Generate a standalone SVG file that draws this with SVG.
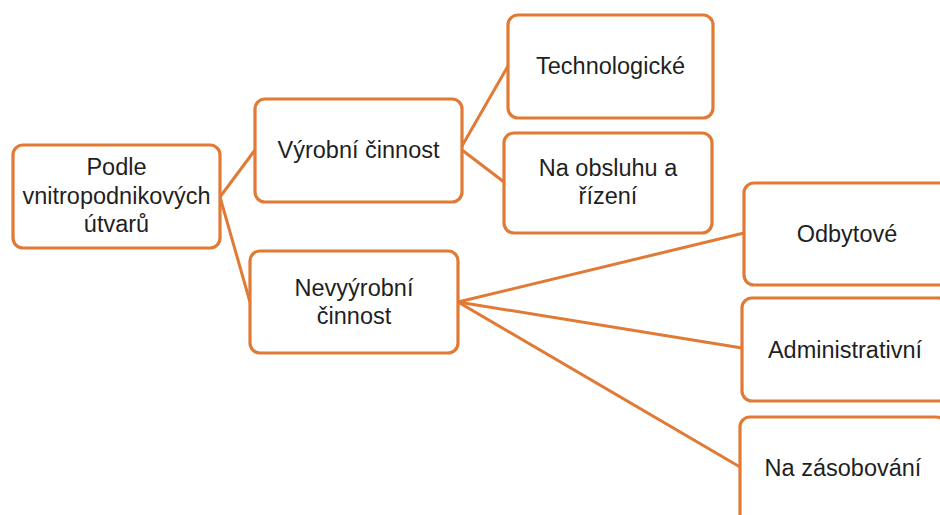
<svg xmlns="http://www.w3.org/2000/svg" width="940" height="515" viewBox="0 0 940 515">
<style>
.box{fill:#fff;stroke:#E07A35;stroke-width:3.2}
.ln{stroke:#E07A35;stroke-width:3;fill:none}
text{font-family:"Liberation Sans",Arial,sans-serif;font-size:23.5px;fill:#1f1f1f;text-anchor:middle}
</style>
<rect width="940" height="515" fill="#fff"/>
<g id="connectors">
<line class="ln" x1="220" y1="197" x2="255" y2="150"/>
<line class="ln" x1="220" y1="197" x2="250" y2="302"/>
<line class="ln" x1="462" y1="146" x2="508" y2="66"/>
<line class="ln" x1="462" y1="150" x2="504" y2="182"/>
<line class="ln" x1="458" y1="302" x2="744" y2="233"/>
<line class="ln" x1="458" y1="302" x2="742" y2="348"/>
<line class="ln" x1="458" y1="302" x2="740" y2="467"/>
</g>
<g id="podle">
<rect class="box" x="13" y="145" width="207" height="103" rx="10"/>
<text x="116.5" y="175">Podle</text>
<text x="116.5" y="204">vnitropodnikových</text>
<text x="116.5" y="232">útvarů</text>
</g>
<g id="vyrobni">
<rect class="box" x="255" y="99" width="207" height="103" rx="10"/>
<text x="358.5" y="158">Výrobní činnost</text>
</g>
<g id="technologicke">
<rect class="box" x="508" y="15" width="205" height="103" rx="10"/>
<text x="610.5" y="74">Technologické</text>
</g>
<g id="obsluha">
<rect class="box" x="504" y="133" width="208" height="100" rx="10"/>
<text x="608" y="176">Na obsluhu a</text>
<text x="608" y="204">řízení</text>
</g>
<g id="nevyrobni">
<rect class="box" x="250" y="251" width="208" height="102" rx="10"/>
<text x="354" y="296">Nevyýrobní</text>
<text x="354" y="324">činnost</text>
</g>
<g id="odbytove">
<rect class="box" x="744" y="183" width="206" height="102" rx="10"/>
<text x="847" y="242">Odbytové</text>
</g>
<g id="administrativni">
<rect class="box" x="742" y="298" width="206" height="103" rx="10"/>
<text x="845" y="358">Administrativní</text>
</g>
<g id="zasobovani">
<rect class="box" x="740" y="417" width="206" height="110" rx="10"/>
<text x="843" y="476">Na zásobování</text>
</g>
</svg>
